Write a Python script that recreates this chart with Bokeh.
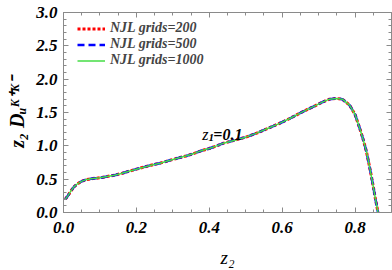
from bokeh.plotting import figure
from bokeh.models import Range1d, FixedTicker, LinearAxis, Label, Legend, LegendItem
from bokeh.embed import file_html
from bokeh.resources import INLINE

# ---------------- data ----------------
z2 = [0.005, 0.012, 0.02, 0.028, 0.036, 0.044, 0.051, 0.06, 0.07, 0.08, 0.09, 0.10,
      0.12, 0.14, 0.156, 0.18, 0.20, 0.22, 0.24, 0.265, 0.29, 0.31, 0.338, 0.36,
      0.38, 0.40, 0.42, 0.439, 0.46, 0.48, 0.50, 0.53, 0.56, 0.59, 0.621, 0.645,
      0.667, 0.69, 0.712, 0.73, 0.749, 0.765, 0.785, 0.80, 0.813, 0.822, 0.831,
      0.84, 0.849, 0.856, 0.863]
d_grid200 = [0.20, 0.25, 0.32, 0.38, 0.42, 0.45, 0.47, 0.49, 0.50, 0.51, 0.515, 0.52,
             0.54, 0.56, 0.58, 0.62, 0.65, 0.68, 0.71, 0.74, 0.78, 0.81, 0.85, 0.89,
             0.93, 0.96, 1.00, 1.04, 1.07, 1.10, 1.13, 1.19, 1.26, 1.33, 1.41, 1.48,
             1.54, 1.60, 1.66, 1.70, 1.71, 1.70, 1.61, 1.47, 1.26, 1.10, 0.92,
             0.68, 0.42, 0.20, 0.00]
d_grid500 = [0.20, 0.25, 0.32, 0.38, 0.42, 0.45, 0.47, 0.49, 0.50, 0.51, 0.515, 0.52,
             0.54, 0.56, 0.58, 0.62, 0.65, 0.68, 0.71, 0.74, 0.78, 0.81, 0.85, 0.89,
             0.93, 0.96, 1.00, 1.04, 1.07, 1.10, 1.13, 1.19, 1.26, 1.33, 1.41, 1.48,
             1.54, 1.60, 1.66, 1.70, 1.71, 1.70, 1.61, 1.47, 1.26, 1.10, 0.92,
             0.68, 0.42, 0.20, 0.00]
d_grid1000 = [0.20, 0.25, 0.32, 0.38, 0.42, 0.45, 0.47, 0.49, 0.50, 0.51, 0.515, 0.52,
              0.54, 0.56, 0.58, 0.62, 0.65, 0.68, 0.71, 0.74, 0.78, 0.81, 0.85, 0.89,
              0.93, 0.96, 1.00, 1.04, 1.07, 1.10, 1.13, 1.19, 1.26, 1.33, 1.41, 1.48,
              1.54, 1.60, 1.66, 1.70, 1.71, 1.70, 1.61, 1.47, 1.26, 1.10, 0.92,
              0.68, 0.42, 0.20, 0.00]
series_labels = ["NJL grids=200", "NJL grids=500", "NJL grids=1000"]

x_ticks = [0.0, 0.2, 0.4, 0.6, 0.8]
x_tick_labels = ["0.0", "0.2", "0.4", "0.6", "0.8"]
x_minor = [0.05, 0.1, 0.15, 0.25, 0.3, 0.35, 0.45, 0.5, 0.55, 0.65, 0.7, 0.75, 0.85]
y_ticks = [0.0, 0.5, 1.0, 1.5, 2.0, 2.5, 3.0]
y_tick_labels = ["0.0", "0.5", "1.0", "1.5", "2.0", "2.5", "3.0"]
y_minor = [0.1, 0.2, 0.3, 0.4, 0.6, 0.7, 0.8, 0.9, 1.1, 1.2, 1.3, 1.4, 1.6, 1.7,
           1.8, 1.9, 2.1, 2.2, 2.3, 2.4, 2.6, 2.7, 2.8, 2.9]
x_title = "z\u2082"
y_title = "z\u2082 D\u1d64\u1d37\u207a\u1d37\u207b"

# ---------------- figure ----------------
SERIF = "Liberation Serif"
AX = "#8a8a8a"

p = figure(width=392, height=270, output_backend="svg", toolbar_location=None,
           x_range=Range1d(0, 0.9), y_range=Range1d(0, 3.0),
           x_axis_location=None, y_axis_location=None,
           min_border_left=63, min_border_right=1, min_border_top=12,
           min_border_bottom=57)
p.grid.visible = False
p.outline_line_color = AX
p.background_fill_color = "white"
p.border_fill_color = "white"


def make_axis(ticks, minor, labels, show_labels):
    ax = LinearAxis(ticker=FixedTicker(ticks=ticks, minor_ticks=minor))
    ax.axis_line_color = AX
    ax.major_tick_line_color = AX
    ax.minor_tick_line_color = AX
    ax.major_tick_in = 5
    ax.major_tick_out = 0
    ax.minor_tick_in = 3
    ax.minor_tick_out = 0
    if show_labels:
        ax.major_label_overrides = {t: s for t, s in zip(ticks, labels)}
        ax.major_label_text_font = SERIF
        ax.major_label_text_font_style = "bold italic"
        ax.major_label_text_font_size = "17px"
        ax.major_label_text_color = "black"
        ax.axis_label_text_font = SERIF
        ax.axis_label_text_color = "black"
    else:
        ax.major_label_overrides = {t: "" for t in ticks}
        ax.major_label_text_font_size = "0px"
        ax.major_label_standoff = 0
    return ax


xb = make_axis(x_ticks, x_minor, x_tick_labels, True)
xb.major_label_standoff = 9
xb.axis_label = x_title
xb.axis_label_text_font_style = "italic"
xb.axis_label_text_font_size = "19px"
xb.axis_label_standoff = 11

yl = make_axis(y_ticks, y_minor, y_tick_labels, True)
yl.major_label_standoff = 6
yl.axis_label = y_title
yl.axis_label_text_font_style = "bold italic"
yl.axis_label_text_font_size = "20px"
yl.axis_label_standoff = 5

p.add_layout(xb, "below")
p.add_layout(yl, "left")
p.add_layout(make_axis(x_ticks, x_minor, x_tick_labels, False), "above")
p.add_layout(make_axis(y_ticks, y_minor, y_tick_labels, False), "right")

r1 = p.line(z2, d_grid200, line_color="#ff0000", line_width=3, line_dash="3 2")
r2 = p.line(z2, d_grid500, line_color="#0000ff", line_width=2.5, line_dash="7 4")
r3 = p.line(z2, d_grid1000, line_color="#44dd44", line_width=1.5)

legend = Legend(items=[LegendItem(label=series_labels[0], renderers=[r1]),
                       LegendItem(label=series_labels[1], renderers=[r2]),
                       LegendItem(label=series_labels[2], renderers=[r3])],
                location=(14, 144), margin=0, padding=0, spacing=-4,
                glyph_width=28, glyph_height=13, label_height=13,
                label_standoff=5, label_text_font=SERIF,
                label_text_font_style="bold italic",
                label_text_font_size="14px", label_text_line_height=0.7,
                border_line_color=None, background_fill_alpha=0)
p.add_layout(legend)


def lab(text, x, y, size, style):
    p.add_layout(Label(x=x, y=y, text=text, text_font=SERIF,
                       text_font_style=style, text_font_size=size,
                       text_color="black", text_baseline="alphabetic",
                       text_align="left"))


# annotation z1=0.1 (data units)
lab("z", 0.381, 1.17, "16px", "italic")
lab("1", 0.398, 1.13, "11px", "bold italic")
lab("=0.1", 0.411, 1.17, "16px", "bold italic")

open("out.html", "w").write(file_html(p, INLINE))
